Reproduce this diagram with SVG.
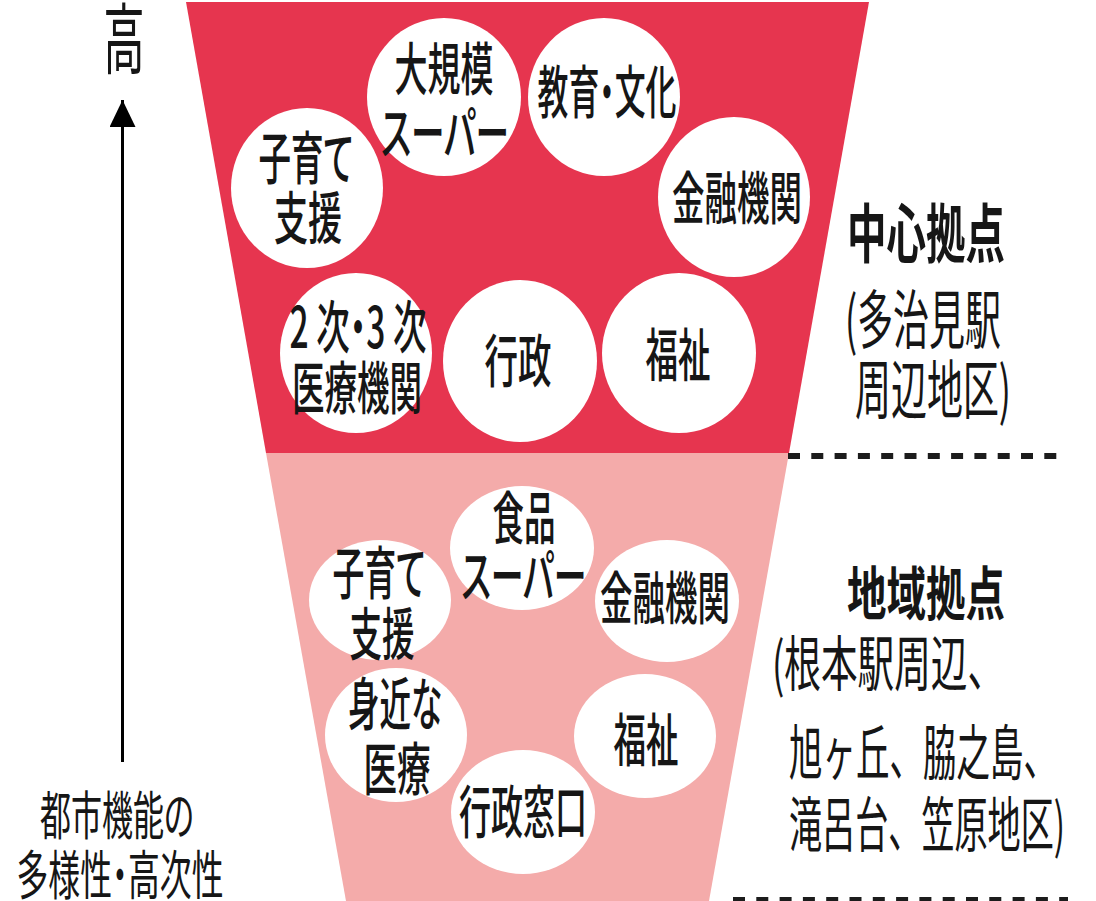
<svg xmlns="http://www.w3.org/2000/svg" width="1096" height="901" viewBox="0 0 1096 901">
<style>
.bg{fill:#ffffff}
.c{fill:#ffffff}
.t{font-family:"Noto Sans CJK JP","Noto Sans CJK SC",sans-serif;font-size:57px;font-weight:500;fill:#161616;text-anchor:middle;font-feature-settings:"palt"}
.h{font-family:"Noto Sans CJK JP","Noto Sans CJK SC",sans-serif;font-weight:700;fill:#161616;text-anchor:middle;font-feature-settings:"palt"}
.r{font-family:"Noto Sans CJK JP","Noto Sans CJK SC",sans-serif;font-weight:400;fill:#161616;font-feature-settings:"palt"}
.rf{font-family:"Noto Sans CJK JP","Noto Sans CJK SC",sans-serif;font-weight:400;fill:#161616}
.dash{stroke:#1c1c1c;stroke-width:6;stroke-dasharray:12 11.3;fill:none}
</style>
<defs>
<marker id="ah" markerWidth="27" markerHeight="26" refX="27" refY="13" orient="auto" markerUnits="userSpaceOnUse" viewBox="0 0 27 26">
<path d="M0,0 L27,13 L0,26 Z" fill="#000"/>
</marker>
</defs>
<rect class="bg" x="0" y="0" width="1096" height="901"/>

<g id="funnel">
<polygon points="186,2 869,2 789,453 266,453" fill="#e6354f"/>
<polygon points="266,453 789,453 709,901 346,901" fill="#f4abaa"/>
</g>

<g id="connectors">
<line x1="122.5" y1="762" x2="122.5" y2="100" stroke="#000" stroke-width="3" marker-end="url(#ah)"/>
<line class="dash" x1="788" y1="456" x2="1060" y2="456"/>
<line class="dash" x1="733" y1="900" x2="1068" y2="900"/>
</g>

<g id="axis-labels">
<text class="r" x="124" y="68" font-size="77" text-anchor="middle" textLength="41" lengthAdjust="spacingAndGlyphs">高</text>
<text class="r" x="117" y="835" font-size="52" text-anchor="middle" textLength="154" lengthAdjust="spacingAndGlyphs">都市機能の</text>
<text class="r" x="120" y="895" font-size="53" text-anchor="middle" textLength="207" lengthAdjust="spacingAndGlyphs">多様性・高次性</text>
</g>

<g id="center-node-kosodate">
<ellipse class="c" cx="307" cy="188" rx="76" ry="80"/>
<text class="t" x="306" y="179" textLength="95" lengthAdjust="spacingAndGlyphs">子育て</text>
<text class="t" x="308" y="239" textLength="68" lengthAdjust="spacingAndGlyphs">支援</text>
</g>
<g id="center-node-super">
<ellipse class="c" cx="444" cy="97" rx="77" ry="79"/>
<text class="t" x="444" y="90" textLength="99" lengthAdjust="spacingAndGlyphs">大規模</text>
<text class="t" x="445" y="154" textLength="128" lengthAdjust="spacingAndGlyphs">スーパー</text>
</g>
<g id="center-node-kyoiku">
<ellipse class="c" cx="604" cy="97" rx="76" ry="79"/>
<text class="t" x="607" y="113" textLength="139" lengthAdjust="spacingAndGlyphs">教育・文化</text>
</g>
<g id="center-node-kinyu">
<ellipse class="c" cx="734" cy="197" rx="76" ry="80"/>
<text class="t" x="737" y="219" textLength="130" lengthAdjust="spacingAndGlyphs">金融機関</text>
</g>
<g id="center-node-iryo">
<ellipse class="c" cx="356" cy="353" rx="76" ry="80"/>
<text class="t" x="358" y="348" textLength="137" lengthAdjust="spacingAndGlyphs">2 次・3 次</text>
<text class="t" x="357" y="409" textLength="130" lengthAdjust="spacingAndGlyphs">医療機関</text>
</g>
<g id="center-node-gyosei">
<ellipse class="c" cx="520" cy="361" rx="77" ry="81"/>
<text class="t" x="518" y="382" textLength="67" lengthAdjust="spacingAndGlyphs">行政</text>
</g>
<g id="center-node-fukushi">
<ellipse class="c" cx="679" cy="353" rx="77" ry="80"/>
<text class="t" x="678" y="376" textLength="65" lengthAdjust="spacingAndGlyphs">福祉</text>
</g>

<g id="center-label">
<text class="h" x="926" y="257" font-size="64" textLength="158" lengthAdjust="spacingAndGlyphs">中心拠点</text>
<text class="r" x="845" y="343" font-size="64" textLength="156" lengthAdjust="spacingAndGlyphs">(多治見駅</text>
<text class="r" x="855" y="413" font-size="64" textLength="156" lengthAdjust="spacingAndGlyphs">周辺地区)</text>
</g>

<g id="local-node-super">
<ellipse class="c" cx="522" cy="548" rx="72" ry="62"/>
<text class="t" x="524" y="539" textLength="63" lengthAdjust="spacingAndGlyphs">食品</text>
<text class="t" x="524" y="597" textLength="125" lengthAdjust="spacingAndGlyphs">スーパー</text>
</g>
<g id="local-node-kosodate">
<ellipse class="c" cx="380" cy="600" rx="71" ry="60"/>
<text class="t" x="379" y="594" textLength="93" lengthAdjust="spacingAndGlyphs">子育て</text>
<text class="t" x="382" y="655" textLength="65" lengthAdjust="spacingAndGlyphs">支援</text>
</g>
<g id="local-node-kinyu">
<ellipse class="c" cx="667" cy="601" rx="72" ry="61"/>
<text class="t" x="665" y="619" textLength="130" lengthAdjust="spacingAndGlyphs">金融機関</text>
</g>
<g id="local-node-iryo">
<ellipse class="c" cx="396" cy="735" rx="71" ry="67"/>
<text class="t" x="395" y="725" textLength="94" lengthAdjust="spacingAndGlyphs">身近な</text>
<text class="t" x="397" y="790" textLength="67" lengthAdjust="spacingAndGlyphs">医療</text>
</g>
<g id="local-node-fukushi">
<ellipse class="c" cx="645" cy="736" rx="71" ry="62"/>
<text class="t" x="646" y="761" textLength="65" lengthAdjust="spacingAndGlyphs">福祉</text>
</g>
<g id="local-node-gyosei">
<ellipse class="c" cx="523" cy="812" rx="72" ry="62"/>
<text class="t" x="523" y="833" textLength="128" lengthAdjust="spacingAndGlyphs">行政窓口</text>
</g>

<g id="local-label">
<text class="h" x="926" y="615" font-size="58" textLength="158" lengthAdjust="spacingAndGlyphs">地域拠点</text>
<text class="rf" x="772" y="686" font-size="60" textLength="232" lengthAdjust="spacingAndGlyphs">(根本駅周辺、</text>
<text class="rf" x="789" y="775" font-size="60" textLength="268" lengthAdjust="spacingAndGlyphs">旭ヶ丘、脇之島、</text>
<text class="rf" x="789" y="847" font-size="60" textLength="276" lengthAdjust="spacingAndGlyphs">滝呂台、笠原地区)</text>
</g>
</svg>
